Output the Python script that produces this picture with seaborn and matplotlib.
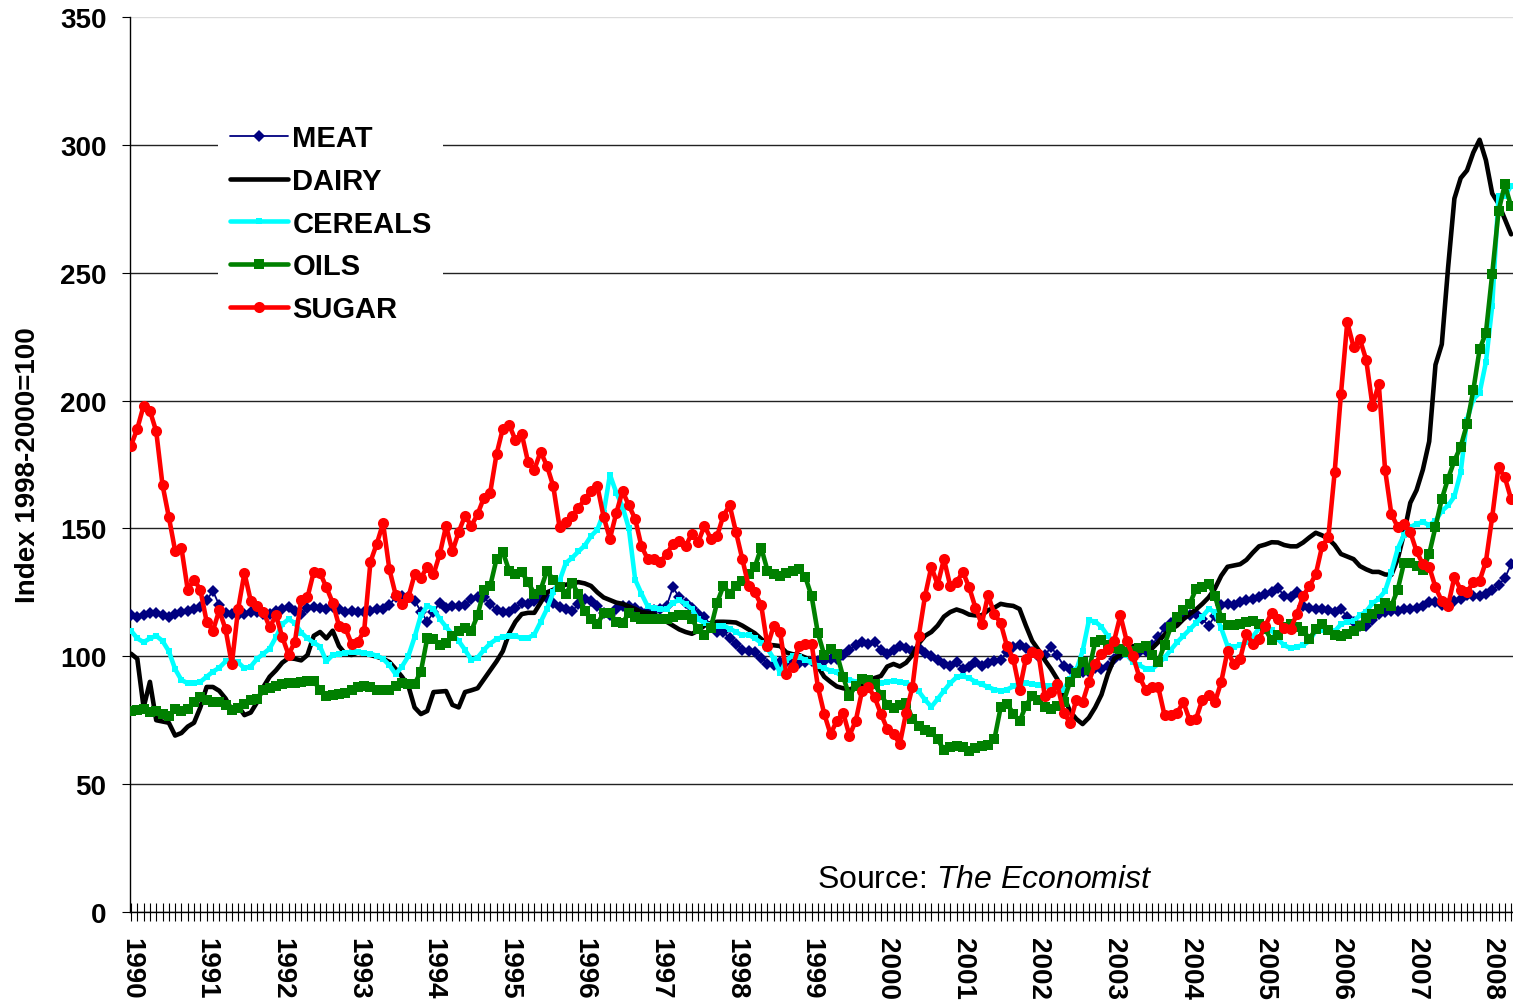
import matplotlib
matplotlib.use("Agg")
import matplotlib.pyplot as plt
import numpy as np
import seaborn as sns

# monthly index values, Jan 1990 - Apr 2008 (1998-2000 = 100)
years = list(range(1990, 2009))

meat = [
    116, 115.5, 116, 117, 117, 116, 115.5, 116.5, 117.3, 117.7, 118.5, 119.3,
    122, 125.5, 120, 117, 116.5, 116, 116.5, 117.5, 117.5, 116.5, 116.5, 117.7,
    118.5, 119.3, 117.7, 116.5, 119, 119.3, 118.7, 118.5, 119.3, 118.5, 117.5, 117.7,
    117.3, 117.5, 117.7, 118.5, 118.5, 120, 123.3, 123.5, 123, 121.8, 117.5, 113.5,
    117.3, 121, 119, 119.5, 119.5, 120, 122.5, 123.3, 123, 120.5, 118, 117.3,
    117.3, 119, 121, 120.5, 121.8, 123.2, 122.6, 120.8, 119.2, 118.3, 117.7, 120.3,
    122.4, 121.8, 119.5, 117, 116, 118.5, 119.7, 119.7, 118.8, 117.5, 117.6, 118.2,
    118.5, 119.7, 127, 123, 121, 118.8, 116.5, 115.5, 112, 109.5, 109.5, 107,
    105, 102.5, 102, 101.5, 99.5, 97, 96.5, 97.8, 97.8, 97.5, 97.2, 97.6,
    98, 98.2, 98.2, 98.8, 99, 100.5, 102.5, 104.3, 105.4, 104.7, 105.5, 102.5,
    101, 102.5, 104, 103.3, 102.2, 103.3, 101.3, 100.2, 98.5, 96.8, 96.2, 97.8,
    95.2, 96, 97.8, 96.2, 97.5, 98, 98.6, 101.8, 103.5, 104.3, 103.3, 101.8,
    100, 100.5, 103.5, 100.4, 96.2, 95, 94, 93.8, 94, 95.5, 95.2, 96.3,
    99, 100.4, 101.6, 102, 101.8, 102, 104.5, 107.5, 111, 113, 114.3, 115.8,
    116.2, 116.5, 114.5, 112, 115.8, 120, 120.5, 119.9, 121.2, 122, 122.4, 123,
    124.2, 125.3, 126.8, 123.5, 123.2, 125, 119.8, 118.8, 118.5, 118.5, 118.2, 117.5,
    118.3, 115.5, 113.3, 111.8, 111.8, 114.3, 116.4, 117.3, 117.7, 117.9, 118.5, 118.5,
    118.9, 119.7, 121.2, 121.2, 120.2, 120.5, 121.5, 122.4, 124, 123.6, 123.5, 124.4,
    126, 128, 130.5, 136,
]

dairy = [
    101, 99, 80, 90, 75, 74.5, 74, 69, 70, 72.5, 74, 80,
    88, 88, 86.5, 83.5, 79, 80.5, 77, 78, 82, 88, 92, 94.5,
    97.5, 99.3, 99, 98.4, 100.5, 108, 109.5, 107, 110, 104, 101, 100.5,
    101.5, 101, 100.5, 99.8, 99, 97.8, 95, 92, 88.5, 80, 77.4, 78.6,
    86, 86.2, 86.4, 81, 80, 86, 86.7, 87.5, 91, 94.5, 98, 102,
    109, 113.5, 116.5, 117, 117, 121, 125, 126, 127.5, 128, 128.5, 129,
    128.5, 127.5, 125, 123, 122, 121, 120.5, 119.5, 118.5, 117.3, 117, 116.5,
    115, 113.5, 112, 110.5, 109.5, 108.8, 110, 112, 113, 113.5, 113.5, 113.4,
    113.2, 112, 110.5, 109, 106.8, 104.5, 104.3, 104, 101.5, 100.8, 100.5, 99.5,
    98, 96, 92, 90, 88.2, 87.5, 87, 88, 89, 90, 91.5, 92.3,
    96, 97, 96, 97.5, 100.5, 105, 108, 109.5, 112, 115.5, 117.3, 118.3,
    117.5, 116.3, 116, 116, 118, 119, 120.5, 120, 119.7, 118.5, 112, 106,
    102.5, 98.5, 95, 91, 84.5, 78.5, 75.5, 73.5, 76, 80, 85, 93,
    99, 100.4, 102, 104, 103.8, 103.3, 103, 105.5, 108.5, 110.5, 112, 114.5,
    116.5, 118.3, 120.5, 123, 126.5, 131.5, 135, 135.5, 136, 137.7, 140.5, 143,
    143.7, 144.6, 144.5, 143.5, 143, 143, 144.5, 146.5, 148.3, 147.3, 146, 143.5,
    140, 139, 138, 135.3, 134, 133, 133, 132, 131.8, 138, 148, 160,
    165, 173, 184, 214, 222, 252, 279, 287, 290, 297, 302, 294,
    281, 277, 271, 265,
]

cereals = [
    110, 107, 105.5, 107, 108, 106, 102, 95, 90.7, 89.5, 89.6, 90,
    92, 94, 95.5, 98, 98.5, 97.6, 95.3, 96, 99, 101, 103, 107.5,
    112.5, 114.5, 113, 109.3, 107, 105.3, 103.8, 98, 100.5, 101, 101.3, 101.7,
    101.5, 101.2, 101, 100.2, 99, 96.5, 93, 96, 100, 107.5, 116, 119.7,
    118.5, 114.6, 111.5, 108.5, 106, 102.5, 98.6, 99.5, 102.5, 105, 106.7, 107.6,
    108, 108, 107, 107.2, 108.5, 113.4, 118.5, 125, 129.5, 136.5, 138.5, 141,
    143.3, 147, 149.5, 156, 171, 164, 158.5, 150, 130, 124.5, 119.5, 118.8,
    118.5, 118.5, 121, 122, 120.5, 118.4, 114.5, 113, 112.2, 112, 112, 110.8,
    109.5, 108.2, 108.5, 107, 105.3, 103, 99, 93.5, 98.5, 100.3, 99.8, 98.6,
    97.6, 96.3, 95.3, 94.4, 93.7, 91.5, 90.8, 90.1, 90.2, 90.4, 90, 89.4,
    90, 90.4, 89.9, 89.5, 88.7, 86.3, 83, 80.2, 83.3, 86.5, 89.5, 91.8,
    92.2, 91.5, 90, 89, 88, 87, 86.5, 87, 88.2, 89.4, 89.4, 89.2,
    88.6, 88.4, 88.4, 88, 87, 91.3, 94.5, 102, 114, 113.6, 111.5, 108,
    105.3, 103, 100.6, 97.8, 96.5, 95.2, 95, 97, 99.5, 102.5, 105.5, 108,
    110.5, 113, 115.5, 118.5, 117.3, 111, 104, 103.7, 104.3, 105.4, 107.6, 111,
    112, 110.3, 106.6, 104.3, 103.2, 103.8, 104.3, 106, 110, 110.2, 109.5, 109.8,
    112.5, 113.6, 113.8, 116, 117.5, 120.7, 122.5, 125.5, 133, 142, 147.5, 150.5,
    151.8, 152.5, 151.3, 153, 156.8, 159, 162.5, 172, 192.5, 200.6, 203, 215,
    237, 280, 280, 284,
]

oils = [
    78.6, 79, 79.3, 78.2, 78.5, 77.5, 76.5, 79.4, 78.5, 79.5, 82, 84,
    83, 82.2, 82, 81, 79, 79.8, 81.5, 83, 83.3, 87, 87.6, 88.5,
    89.3, 89.4, 89.4, 89.8, 90.3, 90.2, 87, 84.5, 84.9, 85.2, 85.8, 86.8,
    88, 88.3, 88, 87, 86.7, 86.8, 88.5, 89.5, 89.2, 89.2, 94, 107,
    106.8, 104.3, 105.2, 108, 109.8, 111, 110, 116, 126, 127.5, 138, 140.8,
    133.5, 132, 133, 129, 124.5, 126, 133.4, 130, 127, 124.5, 128.5, 124.5,
    117.7, 114.5, 112.5, 117, 117, 113.5, 113, 117, 115.5, 114.6, 114.6, 114.6,
    114.6, 114.6, 115.4, 116, 116, 114.5, 110.5, 108.3, 111, 121, 127.5, 124.5,
    127.5, 129.3, 132, 135, 142.5, 133.5, 132.2, 131.5, 132.5, 133.5, 134, 131,
    123.5, 109, 100.6, 102.8, 101, 92, 84.5, 88.5, 91, 90.8, 89, 85,
    81, 79.8, 80.8, 81.8, 75.5, 72.8, 71.2, 70.2, 67.7, 63.2, 64.5, 64.8,
    64.4, 62.9, 64.3, 65, 65.2, 67.5, 80, 81.5, 77.6, 74.5, 80.7, 84.5,
    83, 80.3, 79.4, 80.5, 82.3, 90, 93.5, 97.8, 94.5, 105.6, 106.5, 104.5,
    103.4, 102.7, 101.7, 102, 103.4, 104, 100.5, 97.8, 104.5, 111.5, 115.5, 118,
    120.5, 126.3, 127, 128.3, 123.6, 115, 112.3, 112.3, 112.8, 113.3, 113.7, 112.6,
    110.5, 106.2, 108.2, 111.5, 112.5, 111.6, 110, 106.9, 110.5, 112.5, 110.3, 108.5,
    108, 108.8, 110, 112, 115, 116.5, 118.5, 120.8, 119.8, 126, 136.5, 136.5,
    135.5, 133.6, 140, 150.6, 161.5, 169.5, 176.5, 182, 190.8, 204, 220, 226.5,
    249.5, 274, 284.5, 276,
]

sugar = [
    182.4, 189, 198, 196, 188, 167, 154.5, 141.3, 142.4, 126, 130, 126,
    113.6, 110, 118, 110.6, 97, 118.5, 132.6, 121.7, 119.8, 117.4, 111.4, 116,
    107.6, 100.6, 105.6, 122, 123, 133, 132.6, 127, 121, 112, 111, 105,
    105.6, 110, 137, 144, 152, 134, 124, 120.5, 123, 132, 130.6, 135,
    132, 140, 151, 141, 148.6, 155, 151, 155.6, 162, 164, 179, 189,
    190.5, 184.6, 187, 176, 173, 180, 174.5, 166.6, 150.6, 152.5, 155, 158,
    161.5, 164.6, 166.6, 154.5, 146, 156, 164.6, 159, 153.7, 143, 138, 138,
    137, 140, 144, 145, 143, 148, 144.7, 151, 146, 147, 155, 159,
    148.6, 138, 127.5, 125, 120, 104, 112, 109.5, 93, 96, 104, 105,
    105, 88, 77.5, 69.6, 74.7, 78, 69, 74.7, 86.4, 88, 84, 77.5,
    71.6, 69.6, 65.7, 78, 88, 108, 123.6, 135, 128, 138, 127.5, 129,
    133, 127, 119, 112.6, 124, 116.5, 113, 104, 99, 87, 99, 101.6,
    101, 84.5, 86, 89, 78, 74, 83, 82, 90, 97, 101, 103,
    106, 116, 106, 100, 92, 87, 88, 88, 77, 77, 78, 82,
    75, 75.5, 83, 85, 82, 90, 102, 97, 99, 108.7, 105, 106.8,
    112, 117, 114.6, 111, 110.7, 116.5, 123.6, 127.5, 132, 143, 146.6, 172,
    202.6, 230.7, 221, 224, 216, 198, 206.5, 173, 155.6, 150.6, 151.7, 148.6,
    141, 136, 135, 127, 121.6, 119.8, 131, 126, 125, 129, 129.5, 137,
    154.5, 174, 170, 161.5,
]

for s in (meat, dairy, cereals, oils, sugar):
    assert len(s) == 220, len(s)

months = np.arange(len(meat))

sns.set_theme(style="white")
plt.rcParams['font.family'] = ['Liberation Sans', 'DejaVu Sans']
plt.rcParams['mathtext.fontset'] = 'custom'
plt.rcParams['mathtext.rm'] = 'Liberation Sans'
plt.rcParams['mathtext.it'] = 'Liberation Sans:italic'
for key in ('text.color', 'axes.labelcolor', 'xtick.color', 'ytick.color'):
    plt.rcParams[key] = 'black'

fig = plt.figure(figsize=(15.13, 10.03), dpi=100)
ax = fig.add_axes([130 / 1513, 90 / 1003, 1383 / 1513, 895 / 1003])

# name, values, colour, marker, marker size, line width
styles = [
    ("MEAT", meat, "#000080", "D", 6.5, 1.3),
    ("DAIRY", dairy, "#000000", None, 0, 3.3),
    ("CEREALS", cereals, "#00FFFF", "s", 4, 3.3),
    ("OILS", oils, "#008000", "s", 7, 3.3),
    ("SUGAR", sugar, "#FF0000", "o", 8, 3.3),
]
for name, vals, color, marker, ms, lw in styles:
    sns.lineplot(x=months, y=vals, ax=ax, color=color, marker=marker,
                 markersize=ms, linewidth=lw, markeredgecolor=color,
                 markeredgewidth=0, label=name, zorder=3)

ax.set_xlim(-0.16, 219.3)
ax.set_ylim(0, 350)
ax.set_yticks(range(0, 351, 50))
ax.set_xticks(np.arange(0, len(months), 12))
ax.set_xticklabels([str(y) for y in years], rotation=270)
ax.set_xticks(months, minor=True)

ax.grid(axis='y', color='#222222', linewidth=1.0, zorder=1)
ax.get_ygridlines()[-1].set_color('#dcdcdc')
ax.set_axisbelow(True)

for side in ('top', 'right'):
    ax.spines[side].set_visible(False)
for side in ('left', 'bottom'):
    ax.spines[side].set_color('black')
    ax.spines[side].set_linewidth(1.0)

ax.tick_params(axis='x', which='both', bottom=True, direction='inout',
               length=13.5, width=0.8, color='black')
ax.tick_params(axis='x', which='major', labelsize=20, pad=11,
               labelcolor='black')
ax.tick_params(axis='y', which='major', left=True, direction='out',
               length=6, width=0.8, color='black', labelsize=20, pad=11,
               labelcolor='black')
for lab in ax.get_xticklabels() + ax.get_yticklabels():
    lab.set_fontweight('bold')

ax.set_xlabel('')
ax.set_ylabel('Index 1998-2000=100', fontsize=20, fontweight='bold',
              color='black')
ax.yaxis.set_label_coords(-0.064, 0.5)

leg = ax.legend(loc='upper left', bbox_to_anchor=(0.0636, 0.893),
                borderaxespad=0, frameon=True, fancybox=False,
                edgecolor='none', facecolor='white', framealpha=1,
                prop={'weight': 'bold', 'size': 21}, handlelength=2.0,
                handletextpad=0.15, labelspacing=0.5, borderpad=0.4)
for t in leg.get_texts():
    t.set_color('black')

ax.text(0.4967, 0.028, r'Source: $\mathit{The\ Economist}$',
        transform=ax.transAxes, fontsize=23, ha='left', va='baseline',
        color='black')

fig.savefig('out.png', dpi=100)
